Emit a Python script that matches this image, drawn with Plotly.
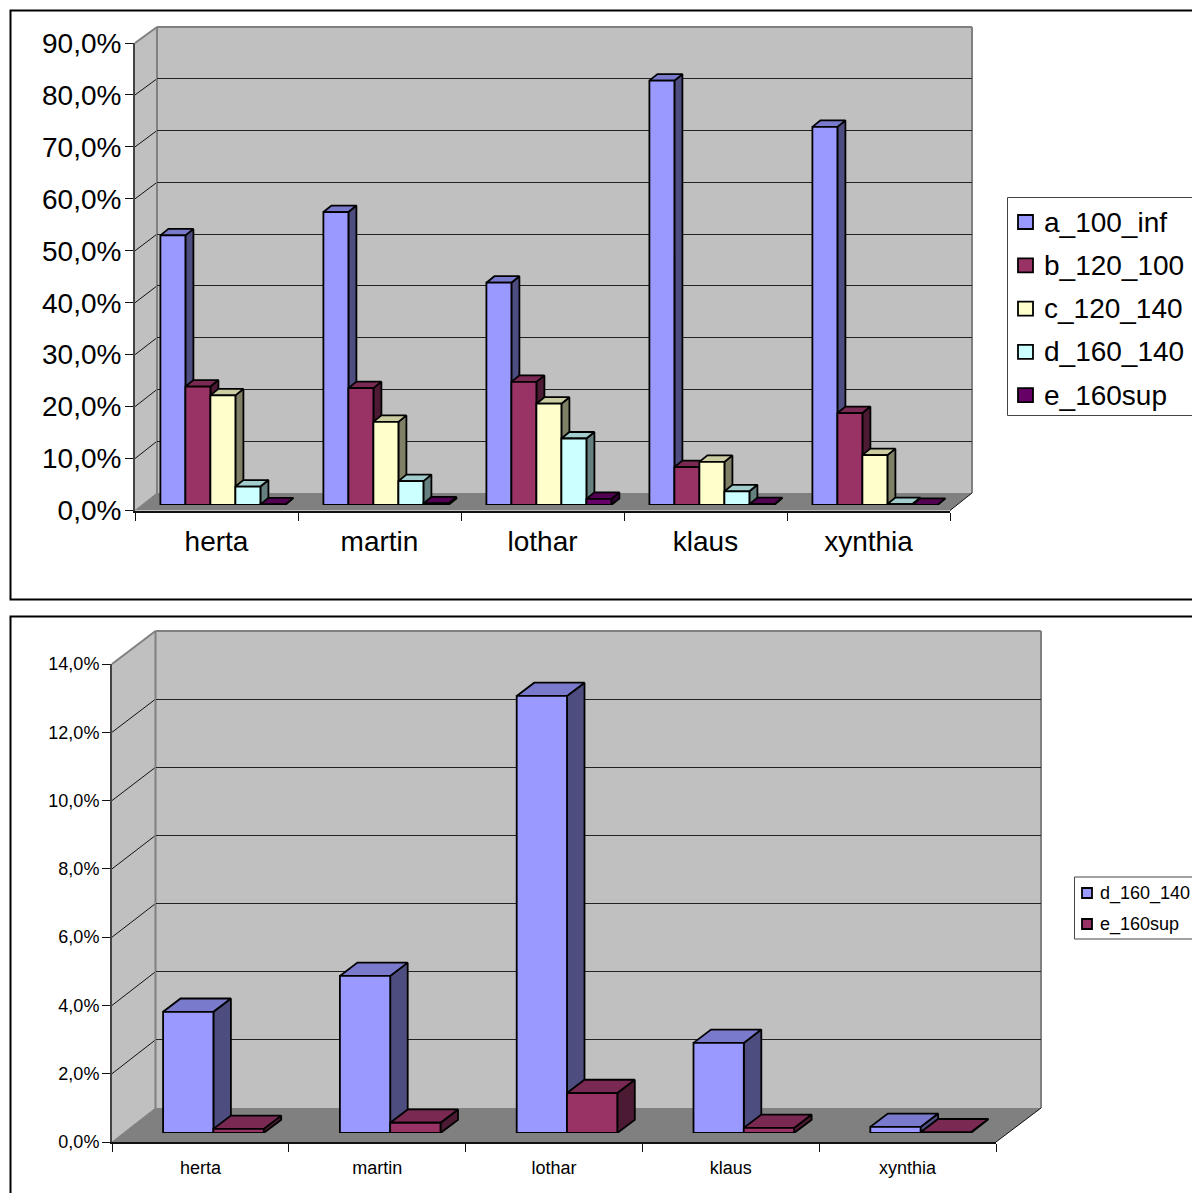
import plotly.graph_objects as go

W, H = 1192, 1193
FONT = "Liberation Sans"

categories = ["herta", "martin", "lothar", "klaus", "xynthia"]
a_100_inf = [51.9, 56.4, 42.8, 81.7, 72.8]
b_120_100 = [22.8, 22.5, 23.7, 7.3, 17.7]
c_120_140 = [21.1, 16.0, 19.5, 8.3, 9.6]
d_160_140 = [3.55, 4.6, 12.8, 2.64, 0.18]
e_160sup = [0.12, 0.3, 1.17, 0.15, 0.02]

top_ticks = [0, 10, 20, 30, 40, 50, 60, 70, 80, 90]
bottom_ticks = [0, 2, 4, 6, 8, 10, 12, 14]

BLUE = ("#9999FF", "#4D4D80", "#7A7ACC")
MAROON = ("#993366", "#4D1A33", "#7A2952")
CREAM = ("#FFFFCC", "#808066", "#CCCCA3")
CYAN = ("#CCFFFF", "#668080", "#A3CCCC")
PURPLE = ("#660066", "#330033", "#520052")


def xdom(a, b):
    return [a / W, b / W]


def ydom(bottom, top):
    return [(H - bottom) / H, (H - top) / H]


fig = go.Figure()
layout = {}
shapes = []
annotations = []
axis_no = [0]


def new_pair(x_domain, y_domain, x_range, y_range, xextra=None, yextra=None):
    axis_no[0] += 1
    n = axis_no[0]
    sx = "" if n == 1 else str(n)
    base = dict(showgrid=False, zeroline=False, showline=False, ticks="", showticklabels=False, fixedrange=True)
    xa = dict(base, domain=x_domain, range=x_range, anchor="y" + sx, type="linear")
    ya = dict(base, domain=y_domain, range=y_range, anchor="x" + sx, type="linear")
    xa.update(xextra or {})
    ya.update(yextra or {})
    layout["xaxis" + sx] = xa
    layout["yaxis" + sx] = ya
    fig.add_trace(go.Scatter(x=[x_range[0]], y=[y_range[0]], mode="none", showlegend=False,
                             hoverinfo="skip", xaxis="x" + sx, yaxis="y" + sx))
    return "x" + sx, "y" + sx


def add_rect(x0, y0, x1, y1, fill, color, width, layer="above"):
    shapes.append(dict(type="rect", xref="paper", yref="paper", x0=x0 / W, x1=x1 / W, y0=(H - y1) / H, y1=(H - y0) / H,
                       fillcolor=fill, line=dict(color=color, width=width), layer=layer))


def panel(series, ticks, geom, font_size, x_standoff, y_standoff, line_w, lg):
    g = geom
    n_cat = len(categories)
    vmax = ticks[-1]
    fy = lambda v: g["front_y0"] + (g["front_y1"] - g["front_y0"]) * v / vmax
    by = lambda v: g["back_y0"] + (g["back_y1"] - g["back_y0"]) * v / vmax
    fl, fr, bl, br = g["front_x0"], g["front_x1"], g["back_x0"], g["back_x1"]

    def path(pts):
        return "M" + "L".join(f"{x / W:.5f},{(H - y) / H:.5f}" for x, y in pts) + "Z"

    def add_path(pts, fill, color, width):
        shapes.append(dict(type="path", xref="paper", yref="paper", path=path(pts), fillcolor=fill,
                           line=dict(color=color, width=width), layer="below"))

    def add_line(p, q, color, width):
        shapes.append(dict(type="line", xref="paper", yref="paper", x0=p[0] / W, y0=(H - p[1]) / H,
                           x1=q[0] / W, y1=(H - q[1]) / H, line=dict(color=color, width=width), layer="below"))

    # walls and floor
    add_path([(fl, fy(0)), (bl, by(0)), (bl, by(vmax)), (fl, fy(vmax))], "#C0C0C0", "#C0C0C0", 0)
    add_path([(bl, by(0)), (br, by(0)), (br, by(vmax)), (bl, by(vmax))], "#C0C0C0", "#C0C0C0", 0)
    add_path([(fl, fy(0)), (fr, fy(0)), (br, by(0)), (bl, by(0))], "#808080", "#808080", 0)
    for v in ticks[1:-1]:
        add_line((fl, fy(v)), (bl, by(v)), "#111111", 1)
    add_line((fl, fy(vmax)), (bl, by(vmax)), "#808080", 2)
    add_line((bl, by(vmax)), (br, by(vmax)), "#808080", 2)
    add_line((bl, by(0)), (bl, by(vmax)), "#808080", 2)
    add_line((br, by(0)), (br, by(vmax)), "#808080", 2)
    add_line((fl, fy(0)), (bl, by(0)), "#808080", 1)
    add_line((fr, fy(0)), (br, by(0)), "#111111", 1)

    # back wall grid
    new_pair(xdom(bl, br), ydom(by(0), by(vmax)), [0, n_cat], [0, vmax],
             yextra=dict(showgrid=True, gridcolor="#222222", gridwidth=1, tickmode="array", tickvals=ticks[1:-1]))

    # front axes with ticks and labels
    tick_text = [f"{v:.1f}%".replace(".", ",") for v in ticks]
    new_pair(xdom(fl, fr), ydom(fy(0), fy(vmax)), [0, n_cat], [0, vmax],
             xextra=dict(showline=True, linecolor="#111111", linewidth=2, tickmode="array",
                         tickvals=[i + 0.5 for i in range(n_cat)], ticktext=categories,
                         showticklabels=True, ticklabelstandoff=x_standoff,
                         tickfont=dict(family=FONT, size=font_size, color="#000000"),
                         minor=dict(tickmode="array", tickvals=list(range(n_cat + 1)), ticks="outside",
                                    ticklen=g["tick"], tickcolor="#111111", tickwidth=1)),
             yextra=dict(showline=True, linecolor="#444444", linewidth=2, tickmode="array", tickvals=ticks,
                         ticktext=tick_text, ticks="outside", ticklen=g["tick"], tickcolor="#111111", tickwidth=1,
                         showticklabels=True, ticklabelstandoff=y_standoff,
                         tickfont=dict(family=FONT, size=font_size, color="#000000")))

    # bars: sides and tops first, fronts on top
    bx0 = fl + g["shift"]
    bx1 = fr + g["shift"]
    cat_px = (bx1 - bx0) / n_cat
    bar_y0 = g["bar_y0"]
    px_per_val = (g["front_y0"] - g["front_y1"]) / vmax
    bar_top = bar_y0 - vmax * px_per_val
    bw = g["bar_px"] / cat_px
    ddx = g["depth_x"] / cat_px
    ddy = g["depth_y"] / px_per_val
    group = bw * len(series)

    xs, ys = new_pair(xdom(bx0, bx1), ydom(bar_y0, bar_top), [0, n_cat], [0, vmax])
    for k, (name, vals, cols) in enumerate(series):
        sx, sy, tx, ty = [], [], [], []
        for i, v in enumerate(vals):
            left = i + 0.5 - group / 2 + k * bw
            right = left + bw
            sx += [right, right + ddx, right + ddx, right, right, None]
            sy += [0, ddy, v + ddy, v, 0, None]
            tx += [left, left + ddx, right + ddx, right, left, None]
            ty += [v, v + ddy, v + ddy, v, v, None]
        fig.add_trace(go.Scatter(x=sx, y=sy, mode="lines", fill="toself", fillcolor=cols[1],
                                 line=dict(color="#000000", width=line_w), showlegend=False, hoverinfo="skip",
                                 xaxis=xs, yaxis=ys))
        fig.add_trace(go.Scatter(x=tx, y=ty, mode="lines", fill="toself", fillcolor=cols[2],
                                 line=dict(color="#000000", width=line_w), showlegend=False, hoverinfo="skip",
                                 xaxis=xs, yaxis=ys))

    xf, yf = new_pair(xdom(bx0, bx1), ydom(bar_y0, bar_top), [0, n_cat], [0, vmax])
    for k, (name, vals, cols) in enumerate(series):
        left_off = -group / 2 + k * bw
        fig.add_trace(go.Bar(x=[i + 0.5 for i in range(n_cat)], y=vals, name=name, width=bw, offset=left_off,
                             marker=dict(color=cols[0], line=dict(color="#000000", width=line_w)),
                             xaxis=xf, yaxis=yf, showlegend=False))

    # legend box, swatches and labels
    add_rect(lg["x0"], lg["y0"], W + 50, lg["y1"], "#FFFFFF", "#444444", 1)
    for k, (name, vals, cols) in enumerate(series):
        cy = lg["first"] + k * lg["step"]
        hs = lg["swatch_h"] / 2
        add_rect(lg["sx0"], cy - hs, lg["sx1"], cy + hs, cols[0], "#000000", lg["swatch_lw"])
        annotations.append(dict(xref="paper", yref="paper", x=lg["tx"] / W, y=(H - cy) / H, text=name, showarrow=False,
                                xanchor="left", yanchor="middle", borderpad=0,
                                font=dict(family=FONT, size=lg["size"], color="#000000")))


# outer frames
add_rect(10.5, 10.5, 1300, 599.5, "#FFFFFF", "#000000", 2, "below")
add_rect(10.5, 616.5, 1300, 1300, "#FFFFFF", "#000000", 2, "below")

panel(
    [("a_100_inf", a_100_inf, BLUE), ("b_120_100", b_120_100, MAROON), ("c_120_140", c_120_140, CREAM),
     ("d_160_140", d_160_140, CYAN), ("e_160sup", e_160sup, PURPLE)],
    top_ticks,
    dict(front_x0=135, front_x1=950, front_y0=510.5, front_y1=43, back_x0=157, back_x1=972, back_y0=493, back_y1=27,
         bar_y0=505, shift=6.4, bar_px=25, depth_x=8, depth_y=6.5, tick=8),
    28, 5, -2, 1.8,
    dict(x0=1007.5, y0=197.5, y1=415.5, first=222, step=43.3, sx0=1018, sx1=1033, swatch_h=14, swatch_lw=1.8, tx=1043, size=28),
)
panel(
    [("d_160_140", d_160_140, BLUE), ("e_160sup", e_160sup, MAROON)],
    bottom_ticks,
    dict(front_x0=112, front_x1=996, front_y0=1142, front_y1=664, back_x0=155.5, back_x1=1041, back_y0=1108, back_y1=631,
         bar_y0=1133, shift=13, bar_px=50.3, depth_x=17.5, depth_y=13.3, tick=8),
    18, 8, -1, 1.8,
    dict(x0=1074.5, y0=877, y1=939, first=893, step=31, sx0=1082, sx1=1092, swatch_h=10, swatch_lw=1.8, tx=1099, size=18),
)

fig.update_layout(
    width=W, height=H, autosize=False,
    margin=dict(l=0, r=0, t=0, b=0, pad=0, autoexpand=False),
    paper_bgcolor="#FFFFFF", plot_bgcolor="rgba(0,0,0,0)",
    barmode="overlay", showlegend=False, shapes=shapes, annotations=annotations,
    **layout,
)
fig.write_html("out.html", config={"displayModeBar": False},
               post_script="document.body.style.margin='0';document.documentElement.style.overflow='hidden';")
